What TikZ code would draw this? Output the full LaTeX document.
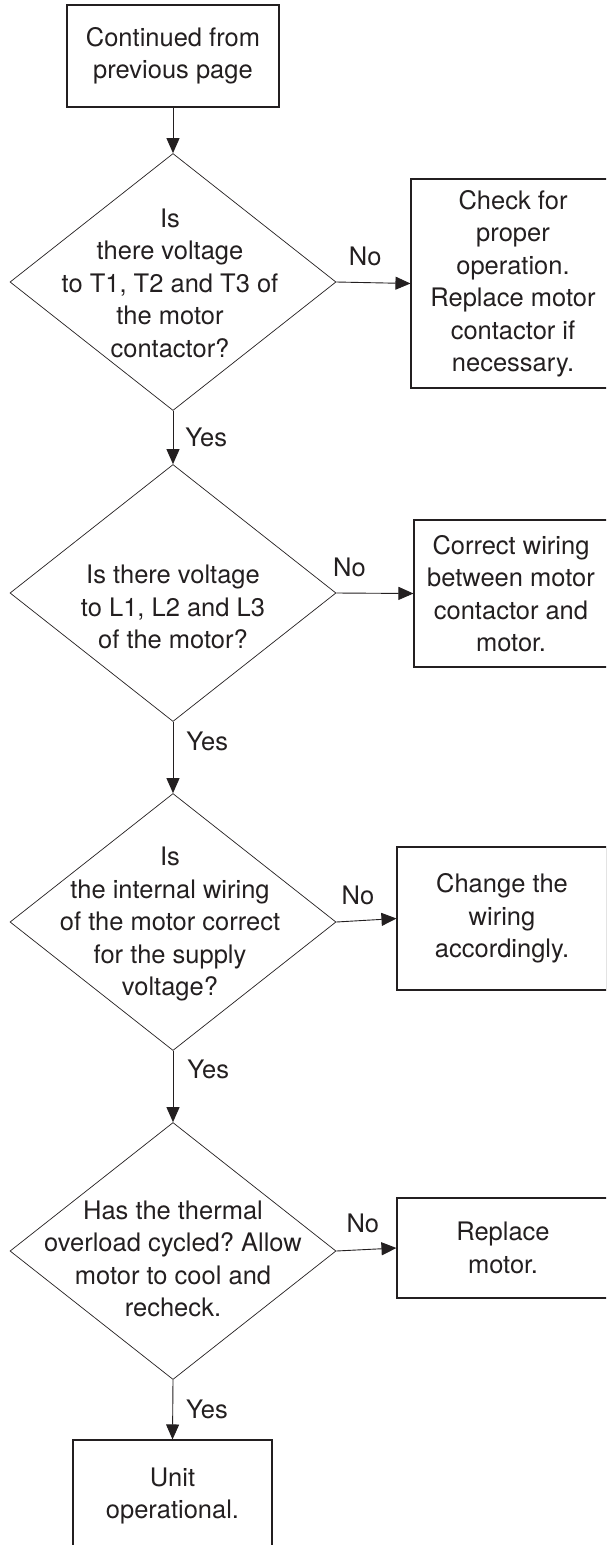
\documentclass[tikz,border=0pt]{standalone}
\usepackage{fontspec}
\setmainfont{TeX Gyre Heros}
\usetikzlibrary{shapes.geometric,arrows.meta}
\definecolor{ink}{HTML}{231F20}
\frenchspacing
\begin{document}
\begin{tikzpicture}[x=1pt,y=-1pt,
  every node/.style={text=ink},
  txt/.style={align=center,font=\fontsize{25.5}{32.5}\selectfont,inner sep=0pt},
  boxnode/.style={draw=ink,line width=1.1pt,rectangle,inner sep=0pt,align=center,
    font=\fontsize{25.5}{32.5}\selectfont},
  decision/.style={draw=ink,line width=0.7pt,diamond,inner sep=0pt,
    minimum width=326pt,minimum height=257pt},
  arr/.style={draw=ink,line width=0.9pt,-{Triangle[width=13pt,length=15pt]}},
  lbl/.style={font=\fontsize{25.5}{30}\selectfont,inner sep=0pt}]
\useasboundingbox (0,0) rectangle (606,1545);
\clip (0,0) rectangle (606,1545);

% start box
\node[boxnode,minimum width=212pt,minimum height=102pt] (start) at (173,56)
  {Continued from\\previous page};

% decisions
\node[decision] (d1) at (173,282) {};
\node[txt] (d1t) at (170,283) {Is\\there voltage\\to T1, T2 and T3 of\\the motor\\contactor?};
\node[decision] (d2) at (173,593) {};
\node[txt] (d2t) at (173,607) {Is there voltage\\to L1, L2 and L3\\of the motor?};
\node[decision] (d3) at (173,922) {};
\node[txt] (d3t) at (170,924) {Is\\the internal wiring\\of the motor correct\\for the supply\\voltage?};
\node[decision] (d4) at (173,1251) {};
\node[txt] (d4t) at (173,1259) {Has the thermal\\overload cycled? Allow\\motor to cool and\\recheck.};

% action boxes
\node[boxnode,minimum width=204pt,minimum height=209pt] (b1) at (513,283.5)
  {Check for\\proper\\operation.\\Replace motor\\contactor if\\necessary.};
\node[boxnode,minimum width=194pt,minimum height=147pt] (b2) at (511,593.5)
  {Correct wiring\\between motor\\contactor and\\motor.};
\node[boxnode,minimum width=210pt,minimum height=143pt] (b3) at (502,918.5)
  {Change the\\wiring\\accordingly.};
\node[boxnode,minimum width=212pt,minimum height=100pt] (b4) at (503,1248)
  {Replace\\motor.};
\node[boxnode,minimum width=199pt,minimum height=112pt] (end) at (172.5,1496)
  {Unit\\operational.};

% connectors
\draw[arr] (start.south) -- (d1.north);
\draw[arr] (d1.east) -- node[lbl,pos=0.39,yshift=26pt] {No} (b1.west);
\draw[arr] (d1.south) -- node[lbl,pos=0.5,anchor=west,xshift=12pt] {Yes} (d2.north);
\draw[arr] (d2.east) -- node[lbl,pos=0.17,yshift=26pt] {No} (b2.west);
\draw[arr] (d2.south) -- node[lbl,pos=0.28,anchor=west,xshift=13pt] {Yes} (d3.north);
\draw[arr] (d3.east) -- node[lbl,pos=0.36,yshift=25pt] {No} (b3.west);
\draw[arr] (d3.south) -- node[lbl,pos=0.26,anchor=west,xshift=14pt] {Yes} (d4.north);
\draw[arr] (d4.east) -- node[lbl,pos=0.44,yshift=26pt] {No} (b4.west);
\draw[arr] (d4.south) -- node[lbl,pos=0.5,anchor=west,xshift=13pt] {Yes} (end.north);
\end{tikzpicture}
\end{document}
